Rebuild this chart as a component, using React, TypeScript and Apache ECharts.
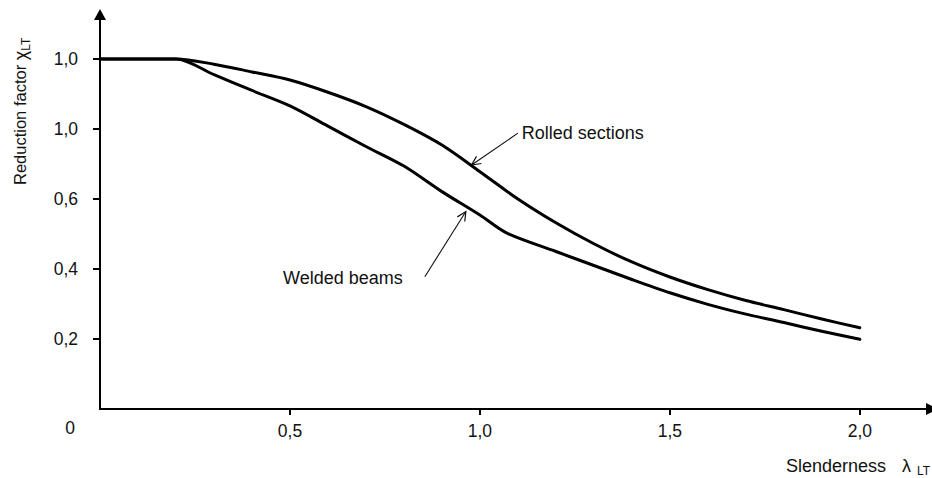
import React, { useEffect, useRef } from "react";
import * as echarts from "echarts";

// Slenderness values and reduction factors for the two curves
const rolledLambda = [0, 0.2, 0.3, 0.4, 0.5, 0.6, 0.7, 0.8, 0.9, 1.0, 1.1, 1.2, 1.3, 1.4, 1.5, 1.6, 1.7, 1.8, 1.9, 2.0];
const rolledChi = [1.0, 1.0, 0.985, 0.963, 0.94, 0.905, 0.864, 0.813, 0.754, 0.678, 0.6, 0.532, 0.472, 0.42, 0.377, 0.341, 0.31, 0.284, 0.257, 0.232];

const weldedLambda = [0, 0.2, 0.3, 0.4, 0.5, 0.6, 0.7, 0.8, 0.9, 1.0, 1.07, 1.2, 1.3, 1.4, 1.5, 1.6, 1.7, 1.8, 1.9, 2.0];
const weldedChi = [1.0, 1.0, 0.955, 0.91, 0.866, 0.808, 0.75, 0.694, 0.621, 0.554, 0.503, 0.45, 0.41, 0.37, 0.332, 0.299, 0.271, 0.247, 0.222, 0.199];

// Axis ticks and their printed labels
const xTicks = [0.5, 1.0, 1.5, 2.0];
const xTickLabels = ["0,5", "1,0", "1,5", "2,0"];
const yTicks = [0.2, 0.4, 0.6, 0.8, 1.0];
const yTickLabels = ["0,2", "0,4", "0,6", "1,0", "1,0"];
const originLabel = "0";
const X_MAX = 2.19;
const Y_MAX = 1.127;

// Curve captions and where their leader arrows sit (data coordinates)
const curveNames = ["Rolled sections", "Welded beams"];
const rolledNoteText = [1.11, 0.788];
const rolledNoteTail = [1.1, 0.788];
const rolledNoteHead = [0.978, 0.697];
const weldedNoteText = [0.797, 0.374];
const weldedNoteTail = [0.855, 0.378];
const weldedNoteHead = [0.963, 0.564];

const FONT = '"Liberation Sans", Arial, Helvetica, sans-serif';
const INK = "#111";

function labelFor(v: number, ticks: number[], labels: string[]) {
  const i = ticks.findIndex((t) => Math.abs(t - v) < 1e-6);
  return i >= 0 ? labels[i] : "";
}

function measure(text: string, size: number) {
  const ctx = document.createElement("canvas").getContext("2d");
  if (!ctx) return text.length * size * 0.55;
  ctx.font = `${size}px ${FONT}`;
  return ctx.measureText(text).width;
}

function leader(tail: number[], head: number[]) {
  const dx = tail[0] - head[0];
  const dy = tail[1] - head[1];
  const L = Math.hypot(dx, dy);
  const ux = dx / L;
  const uy = dy / L;
  const len = 10;
  const a = 0.45;
  const wing = (ang: number) => [
    head[0] + len * (ux * Math.cos(ang) - uy * Math.sin(ang)),
    head[1] + len * (ux * Math.sin(ang) + uy * Math.cos(ang)),
  ];
  return [
    {
      type: "line",
      shape: { x1: tail[0], y1: tail[1], x2: head[0], y2: head[1] },
      style: { stroke: INK, lineWidth: 1.1 },
      silent: true,
    },
    {
      type: "polyline",
      shape: { points: [wing(a), head, wing(-a)] },
      style: { stroke: INK, lineWidth: 1.2, fill: null },
      silent: true,
    },
  ];
}

export default function App() {
  const ref = useRef<HTMLDivElement>(null);

  useEffect(() => {
    const el = ref.current;
    if (!el) return;
    const chart = echarts.init(el, null, { renderer: "svg" });

    const axisCommon = {
      type: "value",
      min: 0,
      splitLine: { show: false },
    };

    const curveStyle = { color: "#000", width: 3, join: "round", cap: "round" };

    chart.setOption({
      animation: false,
      backgroundColor: "#fff",
      grid: { left: 100, right: 0, top: 14.5, bottom: 69, containLabel: false, outerBoundsMode: "none" },
      xAxis: {
        ...axisCommon,
        max: X_MAX,
        axisLine: {
          show: true,
          onZero: false,
          symbol: ["none", "triangle"],
          symbolSize: [12, 12],
          lineStyle: { color: "#000", width: 2 },
        },
        axisTick: { show: true, length: 6, customValues: xTicks, lineStyle: { color: "#000", width: 2 } },
        axisLabel: {
          customValues: xTicks,
          formatter: (v: number) => labelFor(v, xTicks, xTickLabels),
          margin: 13,
          color: INK,
          fontSize: 17.5,
          fontFamily: FONT,
        },
      },
      yAxis: {
        ...axisCommon,
        max: Y_MAX,
        axisLine: {
          show: true,
          onZero: false,
          symbol: ["none", "triangle"],
          symbolSize: [12, 11],
          lineStyle: { color: "#000", width: 2 },
        },
        axisTick: { show: true, length: 7, customValues: yTicks, lineStyle: { color: "#000", width: 2 } },
        axisLabel: {
          customValues: yTicks,
          formatter: (v: number) => labelFor(v, yTicks, yTickLabels),
          margin: 22,
          color: INK,
          fontSize: 17.5,
          fontFamily: FONT,
        },
      },
      series: [
        {
          type: "line",
          name: curveNames[0],
          data: rolledLambda.map((x, i) => [x, rolledChi[i]]),
          symbol: "none",
          showSymbol: false,
          silent: true,
          smooth: 0.3,
          lineStyle: curveStyle,
        },
        {
          type: "line",
          name: curveNames[1],
          data: weldedLambda.map((x, i) => [x, weldedChi[i]]),
          symbol: "none",
          showSymbol: false,
          silent: true,
          smooth: 0.3,
          lineStyle: curveStyle,
        },
      ],
    });

    const P = (d: number[]) => chart.convertToPixel({ gridIndex: 0 }, d) as number[];
    const origin = P([0, 0]);

    // Rotated y-axis title with subscript
    const yTitleSize = 16.5;
    const yTitle = "Reduction factor ";
    const wTitle = measure(yTitle, yTitleSize);
    const wChi = measure("χ", 18);

    const xTitleSize = 18;

    const elements: any[] = [
      {
        type: "text",
        x: origin[0] - 30,
        y: origin[1] + 19,
        style: { text: originLabel, font: `17.5px ${FONT}`, fill: INK, align: "center", verticalAlign: "middle" },
        silent: true,
      },
      {
        type: "group",
        x: 20,
        y: 185,
        rotation: Math.PI / 2,
        children: [
          {
            type: "text",
            x: 0,
            y: 0,
            style: { text: yTitle, font: `${yTitleSize}px ${FONT}`, fill: INK, align: "left", verticalAlign: "middle" },
          },
          {
            type: "text",
            x: wTitle,
            y: 1,
            style: { text: "χ", font: `18px ${FONT}`, fill: INK, align: "left", verticalAlign: "middle" },
          },
          {
            type: "text",
            x: wTitle + wChi,
            y: 6,
            style: { text: "LT", font: `12px ${FONT}`, fill: INK, align: "left", verticalAlign: "middle" },
          },
        ],
        silent: true,
      },
      {
        type: "text",
        x: 786,
        y: 466,
        style: { text: "Slenderness", font: `${xTitleSize}px ${FONT}`, fill: INK, align: "left", verticalAlign: "middle" },
        silent: true,
      },
      {
        type: "text",
        x: 902,
        y: 466,
        style: { text: "λ", font: `${xTitleSize}px ${FONT}`, fill: INK, align: "left", verticalAlign: "middle" },
        silent: true,
      },
      {
        type: "text",
        x: 917,
        y: 471,
        style: { text: "LT", font: `12px ${FONT}`, fill: INK, align: "left", verticalAlign: "middle" },
        silent: true,
      },
    ];

    const rt = P(rolledNoteText);
    elements.push({
      type: "text",
      x: rt[0],
      y: rt[1],
      style: { text: curveNames[0], font: `18px ${FONT}`, fill: INK, align: "left", verticalAlign: "middle" },
      silent: true,
    });
    elements.push(...leader(P(rolledNoteTail), P(rolledNoteHead)));

    const wt = P(weldedNoteText);
    elements.push({
      type: "text",
      x: wt[0],
      y: wt[1],
      style: { text: curveNames[1], font: `18px ${FONT}`, fill: INK, align: "right", verticalAlign: "middle" },
      silent: true,
    });
    elements.push(...leader(P(weldedNoteTail), P(weldedNoteHead)));

    chart.setOption({ graphic: { elements } });

    return () => chart.dispose();
  }, []);

  return (
    <div
      ref={ref}
      style={{ position: "fixed", left: 0, top: 0, width: 932, height: 478, background: "#fff" }}
    />
  );
}
